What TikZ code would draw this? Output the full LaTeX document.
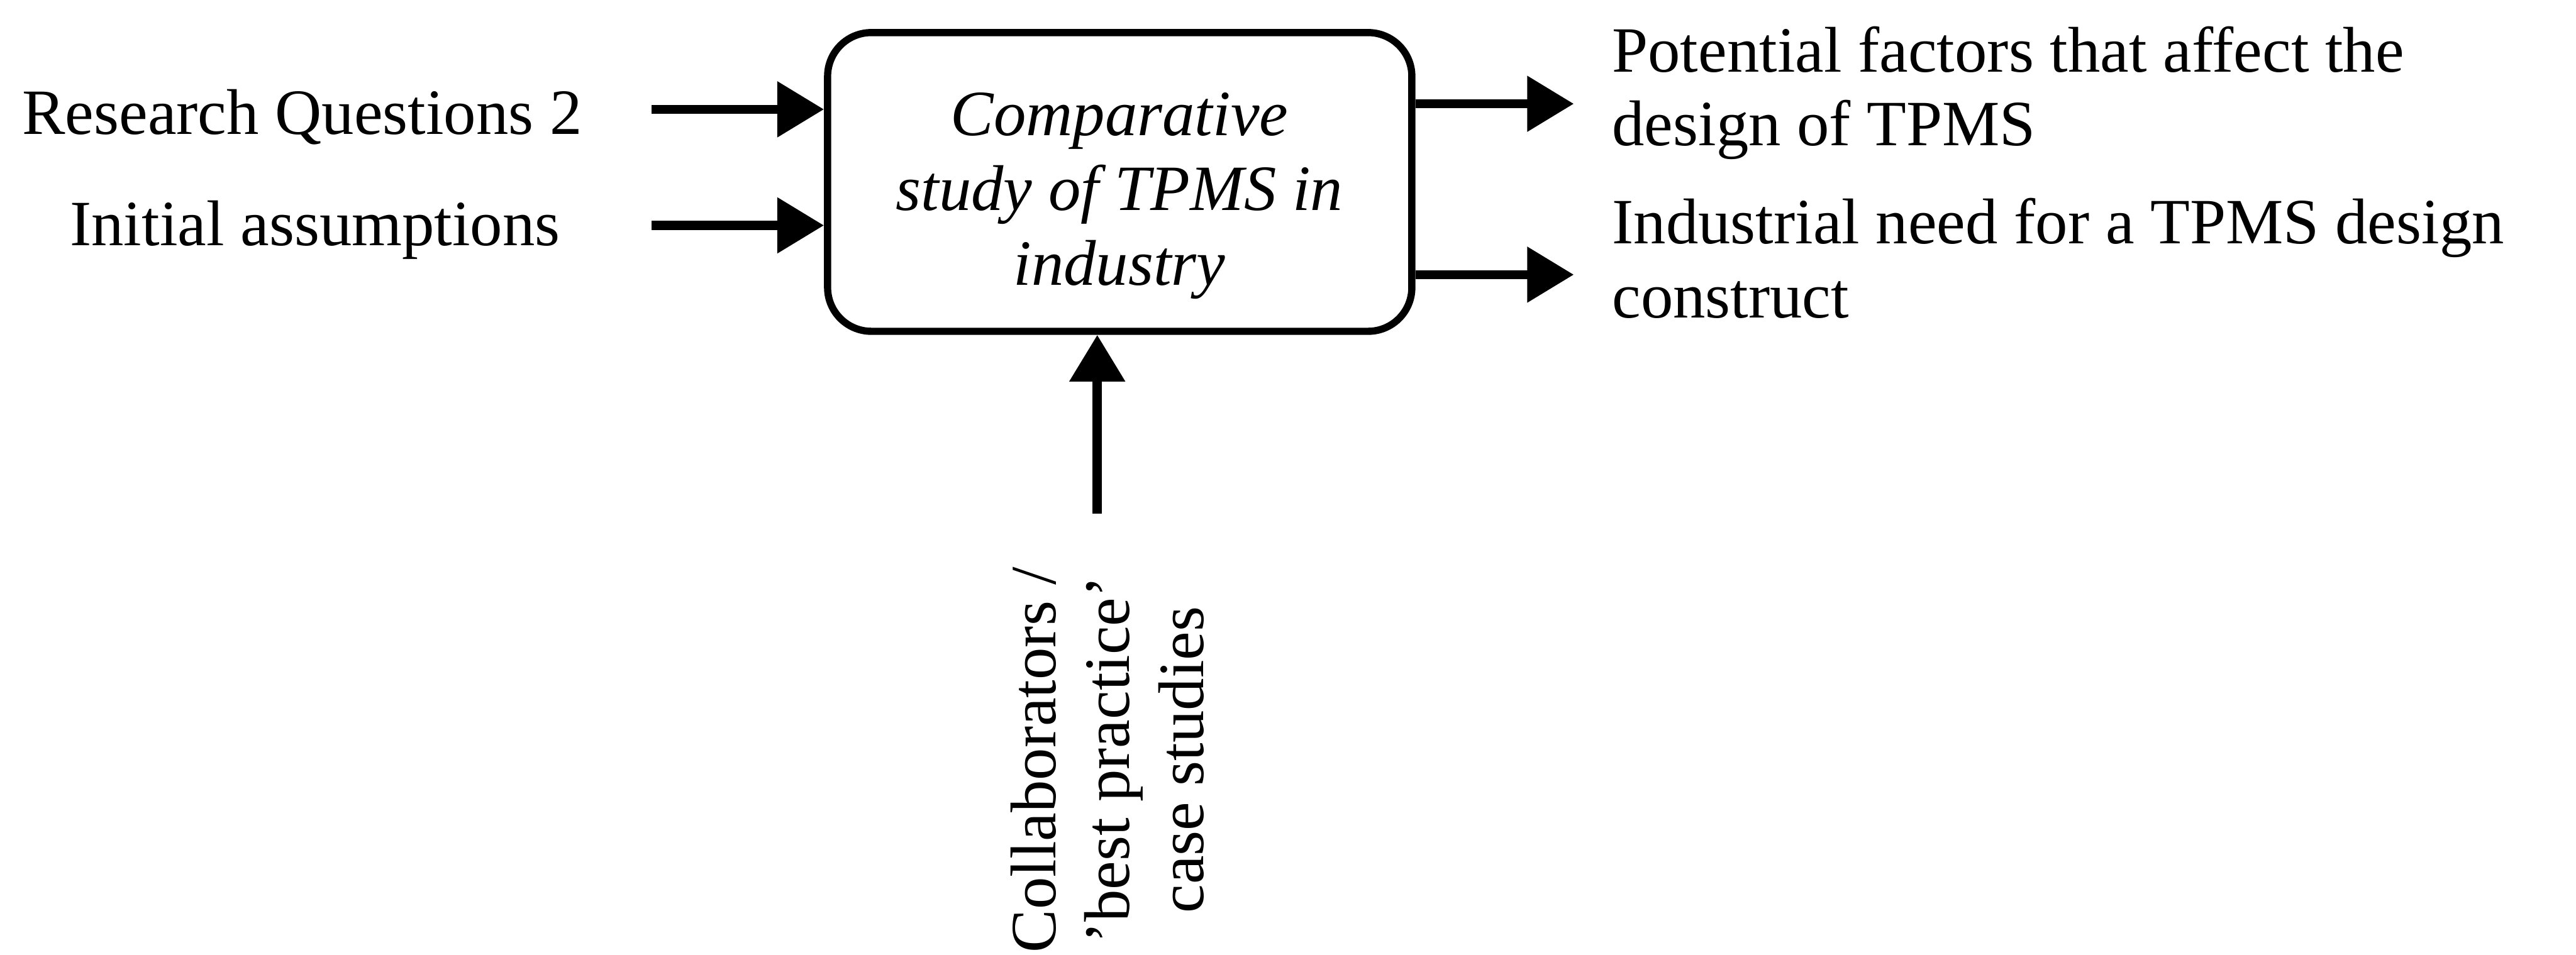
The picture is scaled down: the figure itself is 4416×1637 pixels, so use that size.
\documentclass[tikz,border=0pt]{standalone}
\usepackage{fontspec}
\setmainfont{Liberation Serif}
\usetikzlibrary{arrows.meta}
\begin{document}
\begin{tikzpicture}[x=0.01cm,y=-0.01cm,
  txt/.style={font=\fontsize{31.5pt}{36pt}\selectfont, inner sep=0pt},
  boxtxt/.style={font=\fontsize{31.5pt}{36.5pt}\selectfont\itshape, inner sep=0pt, align=center},
  procbox/.style={draw, line width=3.5pt, rounded corners=0.75cm,
    minimum width=10.01cm, minimum height=5.12cm, inner sep=0pt},
  flow/.style={line width=4.5pt, -{Triangle[length=0.8cm,width=0.92cm]}}]
\useasboundingbox (0,0) rectangle (4416,1637);

% activity box
\node[procbox] (proc) at (1919.5,312) {};
\node[boxtxt] (proctext) at (1919,335.5) {Comparative\\study of TPMS in\\industry};

% inputs
\node[txt, anchor=base] (rq) at (518,230) {Research Questions 2};
\node[txt, anchor=base] (ia) at (540,421) {Initial assumptions};
\coordinate (rqTail) at (1117,187.5);
\coordinate (iaTail) at (1117,386.5);
\draw[flow] (rqTail) -- (rqTail -| proc.west);
\draw[flow] (iaTail) -- (iaTail -| proc.west);

% outputs
\node[txt, anchor=west, align=left] (out1) at (2763,159.5) {Potential factors that affect the\\design of TPMS};
\node[txt, anchor=west, align=left] (out2) at (2763,443) {Industrial need for a TPMS design\\construct};
\coordinate (out1Tip) at (2698,178);
\coordinate (out2Tip) at (2698,471);
\draw[flow] (out1Tip -| proc.east) -- (out1Tip);
\draw[flow] (out2Tip -| proc.east) -- (out2Tip);

% mechanism
\node[txt, rotate=90, align=center] (mech) at (1898,1303) {Collaborators /\\’best practice’\\case studies};
\coordinate (mechTail) at (1881,881);
\draw[flow] (mechTail) -- (mechTail |- proc.south);
\end{tikzpicture}
\end{document}
